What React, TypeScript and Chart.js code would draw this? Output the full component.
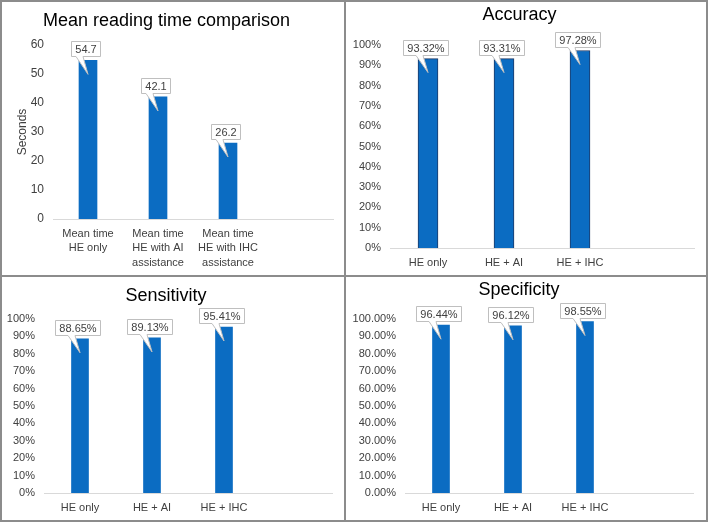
import React, { useEffect, useRef } from "react";
import { Chart, registerables } from "chart.js";

Chart.register(...registerables);

// ---------- data ----------
const timeCategories: (string | string[])[] = [
  ["Mean time", "HE only"],
  ["Mean time", "HE with AI", "assistance"],
  ["Mean time", "HE with IHC", "assistance"],
  "",
];
const timeValues: (number | null)[] = [54.7, 42.1, 26.2, null];

const metricCategories: string[] = ["HE only", "HE + AI", "HE + IHC", ""];
const accuracyValues: (number | null)[] = [93.32, 93.31, 97.28, null];
const sensitivityValues: (number | null)[] = [88.65, 89.13, 95.41, null];
const specificityValues: (number | null)[] = [96.44, 96.12, 98.55, null];

const timeTickMax = 60;
const timeTickStep = 10;
const pctTickMax = 100;
const pctTickStep = 10;

const titles = [
  "Mean reading time comparison",
  "Accuracy",
  "Sensitivity",
  "Specificity",
];

// ---------- styles ----------
const FONT = "'Liberation Sans', Arial, sans-serif";
const BAR_BLUE = "#0B6CC2";
const TICK_COLOR = "#404040";

type Panel = {
  x: number; y: number; w: number; h: number;
  left: number; right: number; top: number; bottom: number;
  titleTop: number;
  title: string;
  labels: (string | string[])[];
  values: (number | null)[];
  max: number; step: number;
  tickFmt: (v: number) => string;
  labelFmt: (v: number) => string;
  barThickness: number;
  barBorder: number;
  yTickSize: number;
  yTitle?: string;
};

const panels: Panel[] = [
  {
    x: 0, y: 0, w: 345, h: 276,
    left: 53, right: 333, top: 45, bottom: 219, titleTop: 10,
    title: titles[0], labels: timeCategories, values: timeValues,
    max: timeTickMax, step: timeTickStep,
    tickFmt: (v) => String(v), labelFmt: (v) => v.toFixed(1),
    barThickness: 18, barBorder: 0, yTickSize: 12, yTitle: "Seconds",
  },
  {
    x: 345, y: 0, w: 364, h: 276,
    left: 45, right: 349, top: 45, bottom: 248, titleTop: 4,
    title: titles[1], labels: metricCategories, values: accuracyValues,
    max: pctTickMax, step: pctTickStep,
    tickFmt: (v) => v + "%", labelFmt: (v) => v.toFixed(2) + "%",
    barThickness: 20, barBorder: 1, yTickSize: 11,
  },
  {
    x: 0, y: 276, w: 345, h: 246,
    left: 44, right: 332, top: 43, bottom: 217, titleTop: 9,
    title: titles[2], labels: metricCategories, values: sensitivityValues,
    max: pctTickMax, step: pctTickStep,
    tickFmt: (v) => v + "%", labelFmt: (v) => v.toFixed(2) + "%",
    barThickness: 17, barBorder: 0, yTickSize: 11,
  },
  {
    x: 345, y: 276, w: 364, h: 246,
    left: 60, right: 348, top: 43, bottom: 217, titleTop: 3,
    title: titles[3], labels: metricCategories, values: specificityValues,
    max: pctTickMax, step: pctTickStep,
    tickFmt: (v) => v.toFixed(2) + "%", labelFmt: (v) => v.toFixed(2) + "%",
    barThickness: 17, barBorder: 0, yTickSize: 11,
  },
];

const calloutPlugin = {
  id: "callout",
  afterDatasetsDraw(chart: any, _args: any, opts: any) {
    const { ctx } = chart;
    const meta = chart.getDatasetMeta(0);
    const data = chart.data.datasets[0].data;
    ctx.save();
    ctx.font = `11px ${FONT}`;
    ctx.textAlign = "center";
    ctx.textBaseline = "middle";
    meta.data.forEach((bar: any, i: number) => {
      const v = data[i];
      if (v == null) return;
      const text = opts.format(v);
      const tw = ctx.measureText(text).width;
      const w = Math.round(tw + 8);
      const h = 15;
      const cx = Math.round(bar.x - 2);
      const bottom = Math.round(bar.y - 4) + 0.5;
      const top = bottom - h;
      const left = cx - Math.round(w / 2) + 0.5;
      const right = left + w;
      const tl = cx - 10;
      const tr = cx - 3;
      const tipX = bar.x;
      const tipY = bar.y + 14;
      ctx.beginPath();
      ctx.moveTo(left, top);
      ctx.lineTo(right, top);
      ctx.lineTo(right, bottom);
      ctx.lineTo(tr, bottom);
      ctx.lineTo(tipX, tipY);
      ctx.lineTo(tl, bottom);
      ctx.lineTo(left, bottom);
      ctx.closePath();
      ctx.fillStyle = "#ffffff";
      ctx.fill();
      ctx.strokeStyle = "#bfbfbf";
      ctx.lineWidth = 1;
      ctx.stroke();
      ctx.fillStyle = "#404040";
      ctx.fillText(text, (left + right) / 2, (top + bottom) / 2 + 0.5);
    });
    ctx.restore();
  },
};

function PanelChart({ p }: { p: Panel }) {
  const ref = useRef<HTMLCanvasElement | null>(null);
  useEffect(() => {
    if (!ref.current) return;
    const titleSize = 18;
    const titleLH = titleSize * 1.2;
    const chart = new Chart(ref.current, {
      type: "bar",
      data: {
        labels: p.labels as any,
        datasets: [
          {
            data: p.values as any,
            backgroundColor: BAR_BLUE,
            borderColor: "#1F3864",
            borderWidth: p.barBorder,
            barThickness: p.barThickness,
          },
        ],
      },
      plugins: [calloutPlugin as any],
      options: {
        responsive: false,
        animation: false,
        layout: { padding: { left: 0, right: p.w - p.right, top: 0, bottom: 0 } },
        plugins: {
          legend: { display: false },
          tooltip: { enabled: false },
          title: {
            display: true,
            text: p.title,
            color: "#000000",
            font: { size: titleSize, family: FONT, weight: "normal" as any, lineHeight: 1.2 },
            padding: { top: p.titleTop, bottom: p.top - p.titleTop - titleLH },
          },
          callout: { format: p.labelFmt },
        } as any,
        scales: {
          x: {
            grid: { display: false, drawTicks: false },
            border: { display: true, color: "#d9d9d9", width: 1 },
            ticks: {
              color: TICK_COLOR,
              font: { size: 11, family: FONT, lineHeight: 1.3 },
              padding: 8,
              maxRotation: 0,
              autoSkip: false,
            },
            afterFit: (s: any) => { s.height = p.h - p.bottom; },
          },
          y: {
            min: 0,
            max: p.max,
            grid: { display: false, drawTicks: false },
            border: { display: false },
            ticks: {
              stepSize: p.step,
              color: TICK_COLOR,
              font: { size: p.yTickSize, family: FONT },
              padding: 9,
              autoSkip: false,
              callback: (v: any) => p.tickFmt(Number(v)),
            },
            title: p.yTitle
              ? {
                  display: true,
                  text: p.yTitle,
                  color: "#404040",
                  font: { size: 12, family: FONT },
                  padding: { top: 15, bottom: 0 },
                }
              : { display: false },
            afterFit: (s: any) => { s.width = p.left; },
          },
        },
      },
    });
    return () => chart.destroy();
  }, [p]);
  return (
    <canvas
      ref={ref}
      width={p.w}
      height={p.h}
      style={{ position: "absolute", left: p.x, top: p.y, width: p.w, height: p.h, display: "block" }}
    />
  );
}

export default function App() {
  const line = "#8c8c8c";
  return (
    <div style={{ position: "absolute", left: 0, top: 0, width: 709, height: 522, background: "#ffffff", overflow: "hidden" }}>
      {panels.map((p, i) => (
        <PanelChart key={i} p={p} />
      ))}
      <div style={{ position: "absolute", left: 0, top: 0, width: 708, height: 522, boxSizing: "border-box", border: `2px solid ${line}` }} />
      <div style={{ position: "absolute", left: 344, top: 0, width: 2, height: 522, background: line }} />
      <div style={{ position: "absolute", left: 0, top: 275, width: 708, height: 2, background: line }} />
    </div>
  );
}
